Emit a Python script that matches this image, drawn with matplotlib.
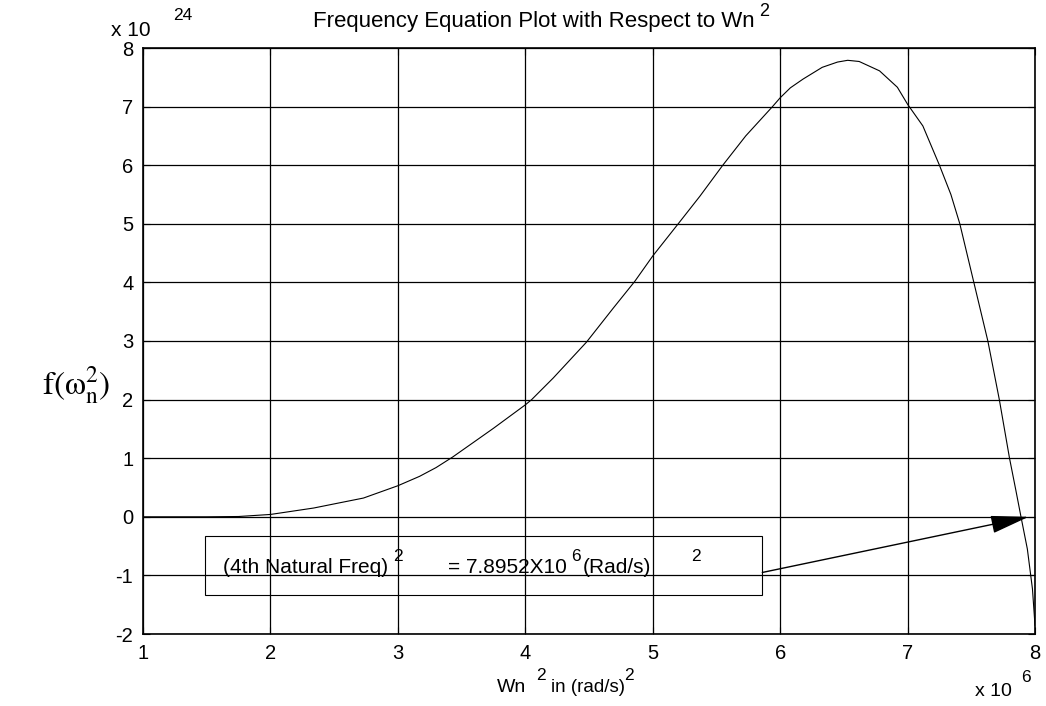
import matplotlib
matplotlib.use("Agg")
import matplotlib.pyplot as plt
from matplotlib.patches import Rectangle

plt.rcParams['font.family'] = ['Liberation Sans', 'DejaVu Sans']
plt.rcParams['mathtext.fontset'] = 'custom'
plt.rcParams['mathtext.rm'] = 'Liberation Sans'
plt.rcParams['mathtext.it'] = 'Liberation Sans:italic'

# data (x in units of 1e6 (rad/s)^2, y in units of 1e24)
wn2 = [1.0, 1.5, 1.75, 2.0, 2.34, 2.5, 2.73, 3.0, 3.17, 3.3, 3.43, 3.6, 3.75,
       4.0, 4.05, 4.22, 4.48, 4.69, 4.86, 5.0, 5.20, 5.37, 5.55, 5.73, 5.94,
       6.0, 6.08, 6.18, 6.33, 6.45, 6.53, 6.62, 6.78, 6.92, 7.0, 7.12, 7.25,
       7.34, 7.41, 7.52, 7.63, 7.72, 7.80, 7.85, 7.89, 7.94, 7.98, 8.0]
f_wn2 = [0.0, 0.0, 0.005, 0.04, 0.15, 0.22, 0.32, 0.53, 0.69, 0.84, 1.02,
         1.28, 1.51, 1.91, 2.0, 2.37, 2.98, 3.56, 4.02, 4.45, 5.0, 5.47, 6.0,
         6.5, 7.0, 7.15, 7.32, 7.47, 7.67, 7.76, 7.79, 7.77, 7.61, 7.33, 7.04,
         6.67, 6.0, 5.5, 5.0, 4.0, 3.0, 2.0, 1.0, 0.45, 0.0, -0.55, -1.23,
         -1.85]
xticks = [1, 2, 3, 4, 5, 6, 7, 8]
yticks = [-2, -1, 0, 1, 2, 3, 4, 5, 6, 7, 8]
root = (7.95, 0.0)

fig = plt.figure(figsize=(10.46, 7.06), dpi=100)
ax = fig.add_axes([143/1046, 1 - 634/706, (1035 - 143)/1046, (634 - 48)/706])

ax.plot(wn2, f_wn2, color='black', lw=0.8)
ax.set_xlim(1, 8)
ax.set_ylim(-2, 8)
ax.set_xticks(xticks)
ax.set_yticks(yticks)
ax.set_xticklabels([str(v) for v in xticks])
ax.set_yticklabels([str(v) for v in yticks])
ax.grid(True, color='black', lw=0.9, linestyle='-')
ax.tick_params(direction='in', length=5, labelsize=14.5, width=0.8, pad=7,
               top=True, right=True)
for s in ax.spines.values():
    s.set_linewidth(1.2)
    s.set_color('black')

# annotation box
ax.add_patch(Rectangle((1.49, -1.33), 5.86 - 1.49, 1.01, fill=False,
                       edgecolor='black', lw=0.8, zorder=3))
ty = -0.86
sy = -0.68
ax.text(1.625, ty, '(4th Natural Freq)', fontsize=15, va='center', ha='left')
ax.text(2.965, sy, '2', fontsize=12.5, va='center', ha='left')
ax.text(3.39, ty, '= 7.8952X10', fontsize=15, va='center', ha='left')
ax.text(4.36, sy, '6', fontsize=12.5, va='center', ha='left')
ax.text(4.45, ty, '(Rad/s)', fontsize=15, va='center', ha='left')
ax.text(5.3, sy, '2', fontsize=12.5, va='center', ha='left')

ax.annotate('', xy=root, xytext=(5.86, -0.95),
            arrowprops=dict(arrowstyle='-|>,head_length=1.5,head_width=0.35',
                            color='black', lw=1.0, mutation_scale=16,
                            shrinkA=0, shrinkB=0))

# figure texts
def ft(xp, yp, s, size=13, ha='left', **kw):
    fig.text(xp/1046, 1 - yp/706, s, fontsize=size, ha=ha, va='center', **kw)

ft(313, 22, 'Frequency Equation Plot with Respect to Wn', size=16)
ft(759, 12, '2', size=13)
ft(111, 31, 'x 10', size=15)
ft(173, 15, '24', size=12.5)
ft(497, 688, 'Wn', size=14)
ft(536, 676, '2', size=12.5)
ft(551, 688, 'in (rad/s)', size=13.5)
ft(624, 676, '2', size=12.5)
ft(975, 691, 'x 10', size=14)
ft(1021, 677, '6', size=12.5)

fig.text(76/1046, 1 - 385/706, r'$\mathrm{f(\omega_{n}^{2})}$', fontsize=24,
         ha='center', va='center', math_fontfamily='stix')

fig.savefig('out.png', dpi=100, facecolor='white')
